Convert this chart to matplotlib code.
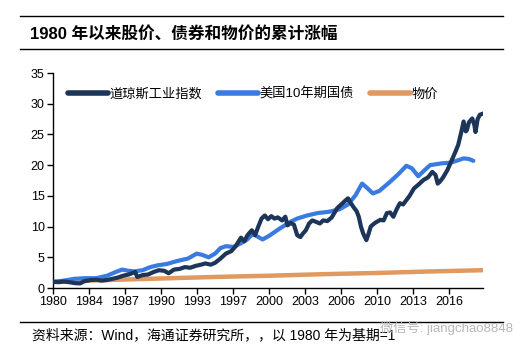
import matplotlib
matplotlib.use("Agg")
import matplotlib.pyplot as plt
from matplotlib.lines import Line2D

plt.rcParams['font.family'] = ['Liberation Sans', 'Noto Sans CJK SC']

# Dow Jones Industrial index, cumulative (1980 = 1)
dow_x = [1980.0, 1980.5, 1981.0, 1981.5, 1982.0, 1982.5, 1982.9, 1983.5, 1984.0, 1984.5,
         1985.0, 1985.5, 1986.0, 1986.5, 1987.0, 1987.6, 1987.8, 1988.3, 1988.8, 1989.3,
         1989.8, 1990.3, 1990.7, 1991.2, 1991.7, 1992.2, 1992.7, 1993.2, 1993.7, 1994.1,
         1994.6, 1995.0, 1995.5, 1996.0, 1996.5, 1996.9, 1997.4, 1997.7, 1998.0, 1998.4,
         1998.7, 1999.0, 1999.3, 1999.6, 1999.9, 2000.2, 2000.5, 2000.8, 2001.2, 2001.5,
         2001.7, 2002.0, 2002.3, 2002.6, 2002.9, 2003.1, 2003.4, 2003.7, 2004.0, 2004.3,
         2004.7, 2005.0, 2005.4, 2005.8, 2006.3, 2006.8, 2007.1, 2007.3, 2007.5, 2007.8,
         2008.1, 2008.3, 2008.5, 2008.7, 2009.0, 2009.2, 2009.4, 2009.8, 2010.3, 2010.6,
         2010.9, 2011.2, 2011.5, 2011.8, 2012.1, 2012.4, 2012.7, 2013.0, 2013.4, 2013.8,
         2014.3, 2014.7, 2015.1, 2015.4, 2015.6, 2015.8, 2016.1, 2016.5, 2016.9, 2017.2,
         2017.5, 2017.8, 2018.0, 2018.2, 2018.3, 2018.5, 2018.8, 2019.0, 2019.1, 2019.3,
         2019.5, 2019.8]
dow_y = [1.0, 0.95, 1.05, 0.95, 0.8, 0.75, 1.1, 1.3, 1.35, 1.2,
         1.3, 1.5, 1.7, 2.0, 2.2, 2.6, 1.8, 2.1, 2.2, 2.6,
         2.9, 2.8, 2.4, 3.0, 3.1, 3.4, 3.3, 3.6, 3.8, 4.0,
         3.8, 4.1, 4.8, 5.6, 6.0, 6.8, 8.2, 7.6, 8.6, 9.4,
         8.6, 10.0, 11.3, 11.8, 11.2, 11.7, 11.3, 11.5, 11.0, 11.6,
         10.2, 10.6, 10.3, 8.6, 8.3, 8.8, 9.4, 10.5, 11.0, 10.8,
         10.5, 11.0, 10.9, 11.5, 13.0, 13.8, 14.3, 14.6, 14.0, 13.2,
         12.5, 11.6, 10.0, 8.9, 7.8, 8.8, 10.0, 10.6, 11.1, 11.0,
         12.2, 12.3, 11.6, 12.8, 13.8, 13.6, 14.3, 15.0, 16.2, 16.8,
         17.6, 18.0, 18.9, 18.4, 17.0, 17.3, 18.0, 19.2, 20.8, 22.0,
         23.3, 25.5, 27.1, 25.5, 25.7, 27.0, 27.6, 26.5, 25.4, 27.5,
         28.2, 28.4]

# US 10-year treasury, cumulative
bond_x = [1980.0, 1981.0, 1982.0, 1983.0, 1984.0, 1985.0, 1985.8, 1986.4, 1987.0, 1987.5,
          1988.3, 1989.0, 1989.7, 1990.5, 1991.5, 1992.5, 1993.3, 1993.8, 1994.4, 1995.0,
          1995.5, 1996.0, 1996.7, 1997.3, 1997.9, 1998.5, 1999.0, 1999.4, 2000.0, 2001.0,
          2002.0, 2002.6, 2003.5, 2004.5, 2005.5, 2006.5, 2007.3, 2008.0, 2008.6, 2009.0,
          2009.6, 2010.2, 2011.2, 2012.0, 2012.7, 2013.2, 2013.8, 2014.4, 2014.9, 2016.0,
          2016.8, 2017.5, 2018.0, 2018.5, 2018.9]
bond_y = [1.0, 1.2, 1.5, 1.6, 1.6, 2.0, 2.6, 3.0, 2.8, 2.7,
          2.9, 3.4, 3.7, 3.9, 4.4, 4.8, 5.6, 5.4, 5.0, 5.6,
          6.5, 6.8, 6.7, 7.2, 7.8, 8.8, 8.3, 7.9, 8.5, 9.7,
          10.8, 11.3, 11.8, 12.2, 12.4, 12.8, 13.6, 15.1, 17.0, 16.4,
          15.4, 15.8, 17.3, 18.6, 19.9, 19.5, 18.2, 19.2, 20.0, 20.3,
          20.4, 20.8, 21.1, 21.0, 20.7]

# CPI, cumulative
cpi_x = [1980.0, 1985.0, 1990.0, 1995.0, 2000.0, 2005.0, 2010.0, 2015.0, 2019.8]
cpi_y = [1.0, 1.3, 1.55, 1.8, 2.0, 2.25, 2.45, 2.7, 2.9]

tick_labels = ['1980', '1984', '1987', '1990', '1993', '1997', '2000', '2003',
               '2006', '2010', '2013', '2016']
tick_pos = [1980 + i * 10 / 3 for i in range(len(tick_labels))]

names = ['道琼斯工业指数', '美国10年期国债', '物价']
colors = ['#1c3558', '#3a7be0', '#e0995e']

fig = plt.figure(figsize=(5.32, 3.52), dpi=100)
ax = fig.add_axes([0.0996, 0.1818, 0.8084, 0.6108])

ax.plot(cpi_x, cpi_y, color=colors[2], lw=3.2, solid_capstyle='round', zorder=2)
ax.plot(bond_x, bond_y, color=colors[1], lw=3, solid_capstyle='round', zorder=3)
ax.plot(dow_x, dow_y, color=colors[0], lw=3, solid_capstyle='round', solid_joinstyle='round', zorder=4)

ax.set_xlim(1980, 2019.8)
ax.set_ylim(0, 35)
ax.set_yticks(range(0, 36, 5))
ax.set_xticks(tick_pos)
ax.set_xticklabels(tick_labels)
ax.tick_params(labelsize=9, length=4, width=1, color='black', pad=2)
for s in ['top', 'right']:
    ax.spines[s].set_visible(False)
for s in ['left', 'bottom']:
    ax.spines[s].set_linewidth(1)

handles = [Line2D([], [], color=c, lw=4, solid_capstyle='round') for c in colors]
ax.legend(handles, names, ncol=3, frameon=False, loc='center left',
          bbox_to_anchor=(0.023, 0.9), fontsize=9.5, handlelength=3.0,
          handletextpad=0.15, columnspacing=1.2, borderaxespad=0)

# header / footer decoration
for y in [0.9545, 0.861, 0.085]:
    fig.add_artist(Line2D([0.0376, 0.945], [y, y], color='black', lw=1))
fig.text(0.056, 0.903, '1980 年以来股价、债券和物价的累计涨幅', fontsize=12,
         fontweight='bold', va='center', ha='left')
fig.text(0.06, 0.047, '资料来源：Wind，海通证券研究所，，以 1980 年为基期=1', fontsize=10,
         va='center', ha='left')
fig.text(0.715, 0.068, '微信号: jiangchao8848', fontsize=9.5, color='#b8b8b8',
         va='center', ha='left')

fig.savefig('out.png', dpi=100)
